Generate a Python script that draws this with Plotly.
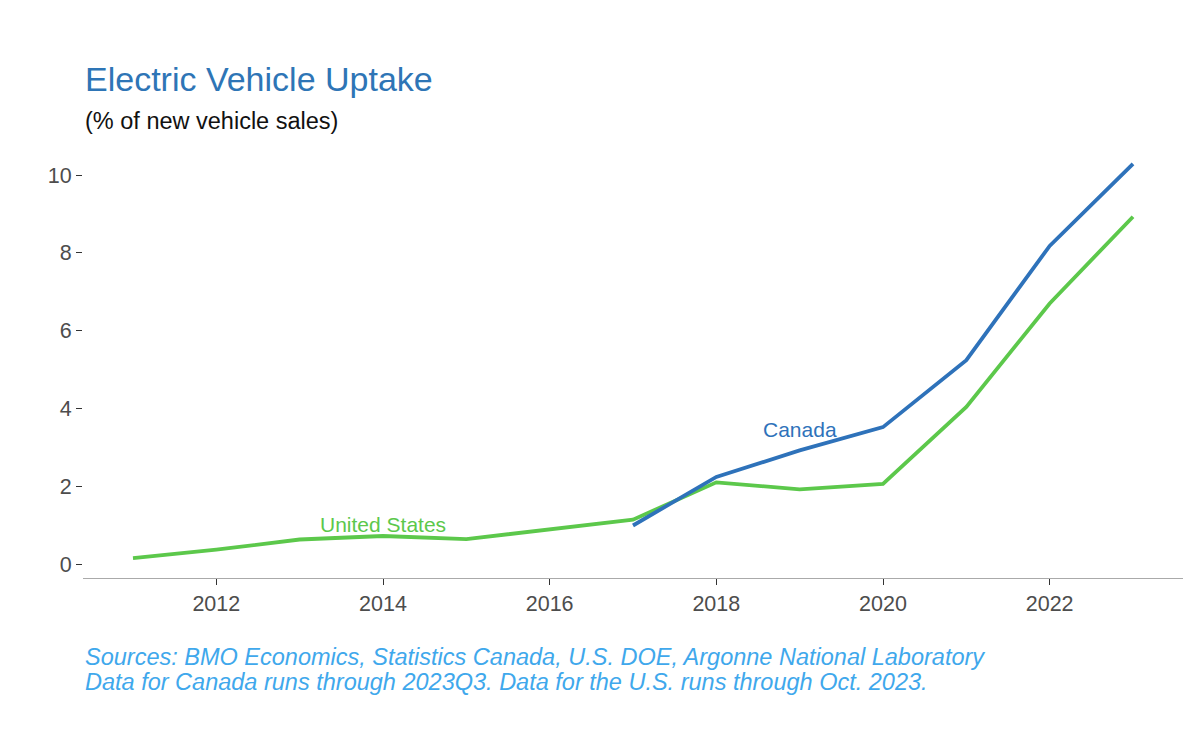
import plotly.graph_objects as go

# ---- data ----
us_years = [2011, 2012, 2013, 2014, 2015, 2016, 2017, 2018, 2019, 2020, 2021, 2022, 2023]
us_share = [0.15, 0.37, 0.63, 0.72, 0.64, 0.89, 1.14, 2.10, 1.92, 2.06, 4.04, 6.70, 8.93]

ca_years = [2017, 2018, 2019, 2020, 2021, 2022, 2023]
ca_share = [0.99, 2.24, 2.92, 3.52, 5.24, 8.18, 10.29]

x_ticks = [2012, 2014, 2016, 2018, 2020, 2022]
y_ticks = [0, 2, 4, 6, 8, 10]

title = "Electric Vehicle Uptake"
subtitle = "(% of new vehicle sales)"
caption1 = "Sources: BMO Economics, Statistics Canada, U.S. DOE, Argonne National Laboratory"
caption2 = "Data for Canada runs through 2023Q3. Data for the U.S. runs through Oct. 2023."

BLUE = "#2E72BA"
GREEN = "#5CC84B"
CAPTION = "#3FA8EC"
FONT = "Liberation Sans, Arial, sans-serif"

fig = go.Figure()
fig.add_trace(go.Scatter(x=us_years, y=us_share, mode="lines", name="United States",
                         line=dict(color=GREEN, width=3.8), showlegend=False))
fig.add_trace(go.Scatter(x=ca_years, y=ca_share, mode="lines", name="Canada",
                         line=dict(color=BLUE, width=3.8), showlegend=False))

fig.add_annotation(x=2019.0, y=3.47, xref="x", yref="y", text="Canada", showarrow=False,
                   font=dict(family=FONT, size=21, color=BLUE))
fig.add_annotation(x=2014.0, y=1.02, xref="x", yref="y", text="United States", showarrow=False,
                   font=dict(family=FONT, size=21, color=GREEN))

fig.add_annotation(x=0.0, y=1.15, xref="paper", yref="paper", xanchor="left", yanchor="middle",
                   text=title, showarrow=False, font=dict(family=FONT, size=34, color="#2E75B6"))
fig.add_annotation(x=0.0, y=1.053, xref="paper", yref="paper", xanchor="left", yanchor="middle",
                   text=subtitle, showarrow=False, font=dict(family=FONT, size=23.5, color="#111111"))
fig.add_annotation(x=0.0, y=-0.182, xref="paper", yref="paper", xanchor="left", yanchor="middle",
                   text="<i>" + caption1 + "</i>", showarrow=False,
                   font=dict(family=FONT, size=23.5, color=CAPTION))
fig.add_annotation(x=0.0, y=-0.24, xref="paper", yref="paper", xanchor="left", yanchor="middle",
                   text="<i>" + caption2 + "</i>", showarrow=False,
                   font=dict(family=FONT, size=23.5, color=CAPTION))

fig.update_layout(
    width=1200, height=746,
    margin=dict(l=75, r=25, t=136, b=176),
    paper_bgcolor="white", plot_bgcolor="white",
    font=dict(family=FONT),
    xaxis=dict(range=[2010.4, 2023.6], tickvals=x_ticks, ticktext=[str(v) for v in x_ticks],
               showgrid=False, zeroline=False, showline=True, linecolor="#AAAAAA", linewidth=1.3,
               ticks="outside", ticklen=6, tickwidth=1.3, tickcolor="#333333",
               tickfont=dict(family=FONT, size=21.5, color="#4D4D4D")),
    yaxis=dict(range=[-0.36, 10.8], tickvals=y_ticks, ticktext=[str(v) for v in y_ticks],
               showgrid=False, zeroline=False, showline=False,
               ticks="outside", ticklen=6, tickwidth=1.3, tickcolor="#333333",
               tickfont=dict(family=FONT, size=21.5, color="#4D4D4D")),
)

fig.write_html("out.html")
